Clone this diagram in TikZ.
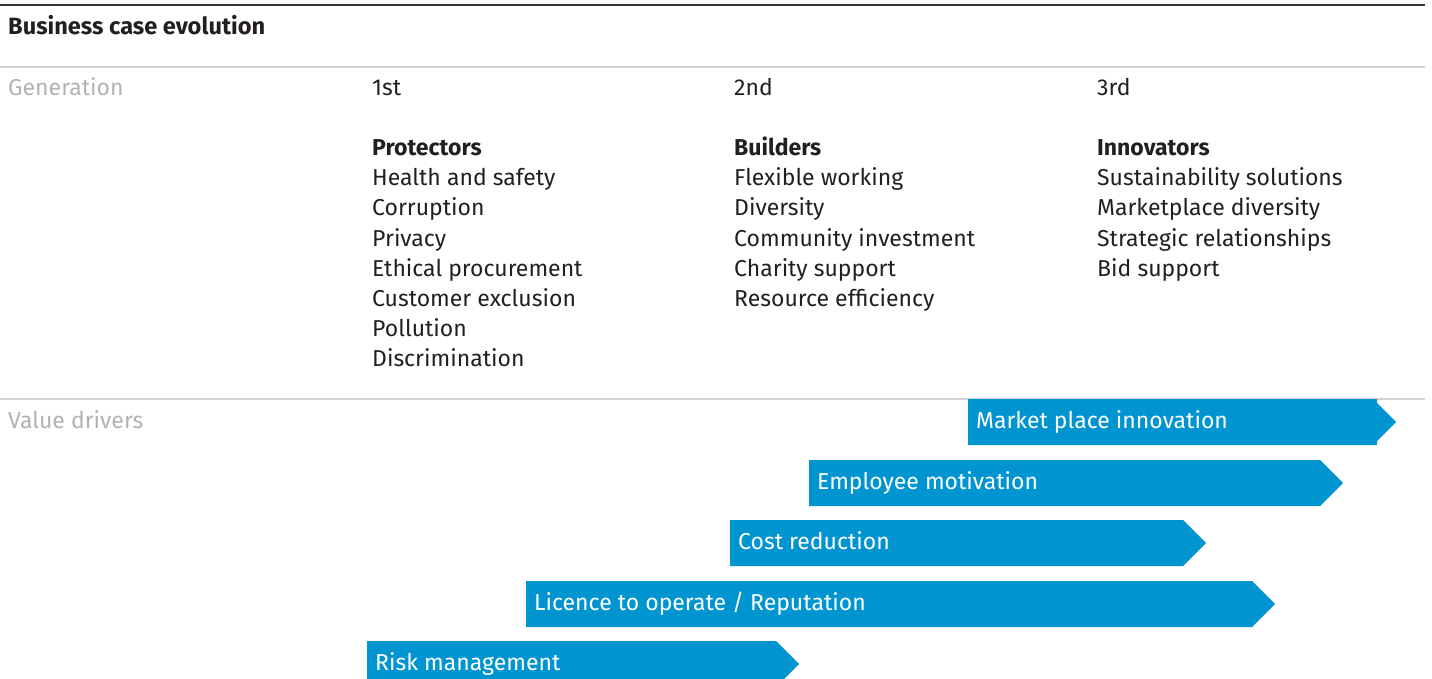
\documentclass[tikz,border=0pt]{standalone}
\usepackage{fontspec}
\setmainfont{Fira Sans}
\definecolor{barblue}{RGB}{0,149,209}
\definecolor{labgray}{RGB}{178,178,178}
\definecolor{rulegray}{RGB}{210,210,210}
\definecolor{txt}{RGB}{35,31,32}
\newcommand{\drv}[6]{% name, x1, x2, ytop, tipw, text
  \fill[barblue] (#2,#4) -- (#3,#4) -- ({#3+#5},{#4+23}) -- (#3,{#4+46}) -- (#2,{#4+46}) -- cycle;
  \node[bartext] (#1) at ({#2+8},{#4+29}) {#6};}
\begin{document}
\begin{tikzpicture}[x=1pt,y=-1pt,
  txtstyle/.style={anchor=base west,inner sep=0pt,font=\fontsize{23}{30}\selectfont,text=txt},
  graylab/.style={txtstyle,text=labgray},
  headstyle/.style={txtstyle,font=\fontsize{23}{30}\selectfont\bfseries},
  titlestyle/.style={txtstyle,font=\fontsize{23.6}{30}\selectfont\bfseries},
  bartext/.style={anchor=base west,inner sep=0pt,font=\fontsize{23}{30}\selectfont,text=white},
  grayrule/.style={draw=rulegray,line width=2pt}]
\useasboundingbox (0,0) rectangle (1432,679);
\clip (0,0) rectangle (1432,679);
% rules
\coordinate (t0) at (0,5); \coordinate (t1) at (1425,5);
\coordinate (g0) at (0,67); \coordinate (g1) at (1425,67);
\coordinate (v0) at (0,399); \coordinate (v1) at (1425,399);
\draw[draw=txt!90,line width=2pt] (t0) -- (t1);
\draw[grayrule] (g0) -- (g1);
\draw[grayrule] (v0) -- (v1);
% title and labels
\node[titlestyle] (title) at (8,35) {Business case evolution};
\node[graylab] (gen) at (8,96) {Generation};
\node[graylab] (val) at (8,428) {Value drivers};
% generations
\node[txtstyle] (g1st) at (372,96) {1st};
\node[txtstyle] (g2nd) at (734,96) {2nd};
\node[txtstyle] (g3rd) at (1097,96) {3rd};
\node[headstyle] (h1) at (372,156) {Protectors};
\node[headstyle] (h2) at (734,156) {Builders};
\node[headstyle] (h3) at (1097,156) {Innovators};
\foreach \t [count=\i] in {Health and safety,Corruption,Privacy,Ethical procurement,Customer exclusion,Pollution,Discrimination}
  \node[txtstyle] (a\i) at (372,{156+30*\i}) {\t};
\foreach \t [count=\i] in {Flexible working,Diversity,Community investment,Charity support,Resource efficiency}
  \node[txtstyle] (b\i) at (734,{156+30*\i}) {\t};
\foreach \t [count=\i] in {Sustainability solutions,Marketplace diversity,Strategic relationships,Bid support}
  \node[txtstyle] (c\i) at (1097,{156+30*\i}) {\t};
% value driver bars
\fill[barblue] (968,399) -- (1377,399) -- (1377,403) -- (1396,422) -- (1377,441) -- (1377,445) -- (968,445) -- cycle;
\node[bartext] (d1) at (976,428) {Market place innovation};
\drv{d2}{809}{1320}{460}{23}{Employee motivation}
\drv{d3}{730}{1183}{520}{23}{Cost reduction}
\drv{d4}{526}{1252}{581}{23}{Licence to operate / Reputation}
\drv{d5}{367}{776}{641}{23}{Risk management}
\end{tikzpicture}
\end{document}
